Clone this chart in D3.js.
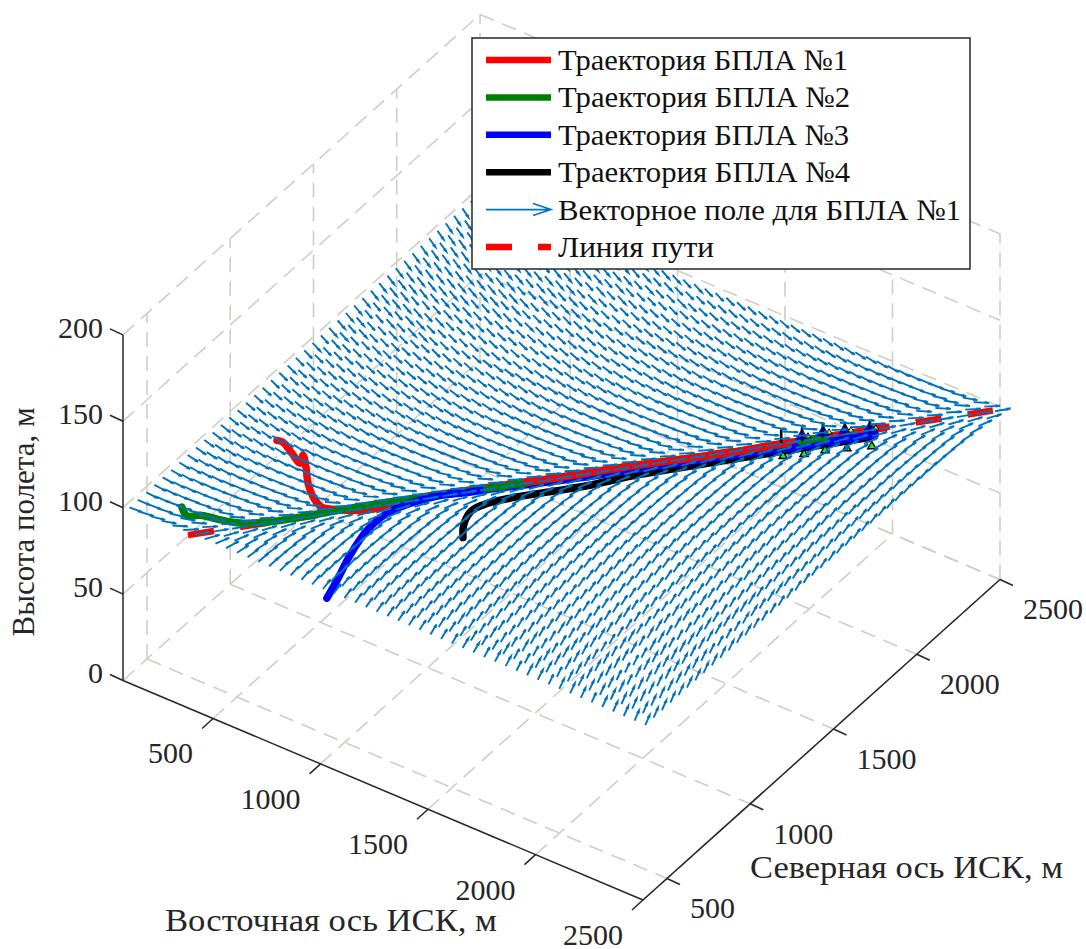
<!DOCTYPE html>
<html>
<head>
<meta charset="utf-8">
<script src="https://cdn.jsdelivr.net/npm/d3@7"></script>
<style>
  html, body { margin: 0; padding: 0; background: #fff; }
  svg { display: block; }
  text { font-family: "Liberation Serif", serif; }
</style>
</head>
<body>
<div id="chart"></div>
<script>
// Axis limits and ticks
const eastLimits = [81, 2500];
const northLimits = [356, 2500];
const heightLimits = [0, 200];
const eastTicks = [500, 1000, 1500, 2000, 2500];
const northTicks = [500, 1000, 1500, 2000, 2500];
const heightTicks = [0, 50, 100, 150, 200];

// Flight level of the vector field and of the path line
const fieldLevel = 100;
const pathEast = [383, 2491];
const pathNorth = [356, 2469];

// Quiver lattice (50 m spacing in the picture)
const fieldEast = d3.range(100, 2501, 50);
const fieldNorth = d3.range(370, 2471, 50);
const arrowLength = 58;
// Turn of an arrow away from the path heading, read at several distances on each side of the path
const offPathDistance = [0, 50, 100, 200, 300, 500, 800, 1200, 1700, 2400];
const turnEastSide = [0, 15, 28, 42, 50, 56, 60, 65, 68, 70];
const turnWestSide = [0, 15, 28, 42, 50, 58, 65, 71, 76, 80];

// Trajectories, east / north in metres at flight level
const redEast = [331, 357, 424, 485, 466, 518, 581, 662, 709, 751, 809, 887, 911, 985, 1143, 1268, 1349, 1547, 1800, 1936, 2094, 2209];
const redNorth = [958, 961, 928, 898, 940, 891, 822, 759, 740, 752, 780, 841, 888, 973, 1129, 1250, 1326, 1526, 1765, 1907, 2063, 2185];
const greenEast = [265, 313, 332, 351, 419, 506, 588, 675, 758, 879, 985, 1166, 1271, 1547, 1800, 1989, 2054, 2197];
const greenNorth = [472, 441, 452, 470, 485, 511, 567, 653, 743, 869, 973, 1142, 1246, 1526, 1765, 1959, 2025, 2171];
const blueEast = [1045, 1014, 967, 933, 936, 980, 1041, 1116, 1169, 1403, 1580, 1810, 1994, 2202];
const blueNorth = [336, 437, 575, 722, 837, 937, 1020, 1086, 1138, 1352, 1526, 1751, 1922, 2134];
const blackEast = [1262, 1216, 1195, 1218, 1280, 1394, 1472, 1582, 1703, 1892, 2066, 2197];
const blackNorth = [873, 939, 1013, 1074, 1151, 1267, 1347, 1480, 1607, 1801, 1979, 2111];

// Aircraft markers at the end of the flight
const uavEast = [1936, 1995, 2048, 2110, 2182];
const uavNorth = [1914, 1963, 2021, 2072, 2129];
const uavTop = 108;

const legendLabels = ["Траектория БПЛА №1", "Траектория БПЛА №2", "Траектория БПЛА №3", "Траектория БПЛА №4", "Векторное поле для БПЛА №1", "Линия пути"];
const legendWidths = [290, 292, 291, 292, 403, 156];
const legendColors = ["#ff0000", "#008000", "#0000ff", "#000000"];

const width = 1086, height = 949;
const gridColor = "#d1cdc6", axisColor = "#262626", arrowColor = "#0072bd";

const svg = d3.select("#chart").append("svg").attr("width", width).attr("height", height);

// The MATLAB view is an oblique projection, so each data axis gets its own pair of scales
const eastX = d3.scaleLinear().domain(eastLimits).range([0, 520]);
const eastY = d3.scaleLinear().domain(eastLimits).range([0, 219.5]);
const northX = d3.scaleLinear().domain(northLimits).range([0, 357]);
const northY = d3.scaleLinear().domain(northLimits).range([0, -320.5]);
const heightY = d3.scaleLinear().domain(heightLimits).range([0, -345.6]);
const originX = 123, originY = 680.5;

const px = (e, n) => originX + eastX(e) + northX(n);
const py = (e, n, z) => originY + eastY(e) + northY(n) + heightY(z);
const project = (e, n, z) => [px(e, n), py(e, n, z)];

const [eMin, eMax] = eastLimits;
const [nMin, nMax] = northLimits;
const [zMin, zMax] = heightLimits;

function seg(a, b) {
    return { a: project(...a), b: project(...b) };
}

// Dashed box grid: floor, left wall and back wall
const gridSegs = [];
eastTicks.forEach(e => {
    gridSegs.push(seg([e, nMin, zMin], [e, nMax, zMin]));
    gridSegs.push(seg([e, nMax, zMin], [e, nMax, zMax]));
});
northTicks.forEach(n => {
    gridSegs.push(seg([eMin, n, zMin], [eMax, n, zMin]));
    gridSegs.push(seg([eMin, n, zMin], [eMin, n, zMax]));
});
heightTicks.forEach(z => {
    gridSegs.push(seg([eMin, nMin, z], [eMin, nMax, z]));
    gridSegs.push(seg([eMin, nMax, z], [eMax, nMax, z]));
});

svg.append("g").selectAll("line").data(gridSegs).join("line")
    .attr("x1", d => d.a[0]).attr("y1", d => d.a[1])
    .attr("x2", d => d.b[0]).attr("y2", d => d.b[1])
    .attr("stroke", gridColor).attr("stroke-width", 1.6)
    .attr("stroke-dasharray", "15,9");

// Axis lines, ticks and tick labels
const axisG = svg.append("g");
const axisLine = (a, b, w) => axisG.append("line")
    .attr("x1", a[0]).attr("y1", a[1]).attr("x2", b[0]).attr("y2", b[1])
    .attr("stroke", axisColor).attr("stroke-width", w || 1.5);
const tickLabel = (x, y, anchor, txt) => axisG.append("text")
    .attr("x", x).attr("y", y).attr("dy", "0.33em").attr("text-anchor", anchor)
    .attr("fill", axisColor).style("font-size", "30px").text(txt);

axisLine(project(eMin, nMin, zMin), project(eMax, nMin, zMin));
axisLine(project(eMax, nMin, zMin), project(eMax, nMax, zMin));
axisLine(project(eMin, nMin, zMin), project(eMin, nMin, zMax));

eastTicks.forEach(e => {
    const p = project(e, nMin, zMin);
    axisLine(p, [p[0] - 11, p[1] + 10]);
    tickLabel(p[0] - 20, p[1] + 35, "end", e);
});
northTicks.forEach(n => {
    const p = project(eMax, n, zMin);
    axisLine(p, [p[0] + 13, p[1] + 6]);
    tickLabel(p[0] + 23, p[1] + 30, "start", n);
});
heightTicks.forEach(z => {
    const p = project(eMin, nMin, z);
    axisLine(p, [p[0] - 13, p[1] - 6]);
    tickLabel(p[0] - 20, p[1] - 7, "end", z);
});

axisG.append("text").attr("transform", "translate(34,522) rotate(-90)")
    .attr("text-anchor", "middle").attr("fill", axisColor).style("font-size", "31px")
    .attr("textLength", 229).attr("lengthAdjust", "spacingAndGlyphs").text("Высота полета, м");
axisG.append("text").attr("x", 165).attr("y", 931)
    .attr("fill", axisColor).style("font-size", "31px")
    .attr("textLength", 332).attr("lengthAdjust", "spacingAndGlyphs").text("Восточная ось ИСК, м");
axisG.append("text").attr("x", 750).attr("y", 878)
    .attr("fill", axisColor).style("font-size", "31px")
    .attr("textLength", 313).attr("lengthAdjust", "spacingAndGlyphs").text("Северная ось ИСК, м");

// Dashed path line
const path3d = d3.line().x(d => px(d[0], d[1])).y(d => py(d[0], d[1], fieldLevel));
svg.append("path")
    .attr("d", path3d(d3.zip(pathEast, pathNorth)))
    .attr("fill", "none").attr("stroke", "#ff0000").attr("stroke-width", 6.5)
    .attr("stroke-dasharray", "26.3,26.3");

// Trajectories; the colours swap on top of each other along the shared stretch
const trajectories = {
    red: d3.zip(redEast, redNorth),
    green: d3.zip(greenEast, greenNorth),
    blue: d3.zip(blueEast, blueNorth),
    black: d3.zip(blackEast, blackNorth)
};
const trajColors = { red: legendColors[0], green: legendColors[1], blue: legendColors[2], black: legendColors[3] };
const trajLayers = [
    ["black", 0, 12], ["blue", 8, 14], ["green", 12, 18], ["red", 0, 16],
    ["green", 0, 12], ["blue", 0, 9], ["green", 11, 13], ["red", 15, 22],
    ["blue", 12, 14], ["green", 15, 17]
];
const trajLine = path3d.curve(d3.curveCatmullRom.alpha(0.5));
svg.append("g").selectAll("path").data(trajLayers).join("path")
    .attr("d", d => trajLine(trajectories[d[0]].slice(d[1], d[2])))
    .attr("fill", "none").attr("stroke", d => trajColors[d[0]])
    .attr("stroke-width", 7.5).attr("stroke-linecap", "round").attr("stroke-linejoin", "round");

// Aircraft markers: black fin, blue and yellow wings, lime tail
const uavs = d3.zip(uavEast, uavNorth);
const uavG = svg.append("g");
const triangle = d3.symbol().type(d3.symbolTriangle);
uavG.selectAll(".uav-tail").data(uavs).join("path").attr("class", "uav-tail")
    .attr("d", triangle.size(30)())
    .attr("transform", d => `translate(${px(d[0], d[1]) + 2},${py(d[0], d[1], fieldLevel) + 13})`)
    .attr("fill", "#22ee22").attr("stroke", "#000").attr("stroke-width", 1.4);
uavG.selectAll(".uav-wing").data(uavs.slice(1)).join("path").attr("class", "uav-wing")
    .attr("d", triangle.size(80)())
    .attr("transform", d => `translate(${px(d[0], d[1])},${py(d[0], d[1], fieldLevel) - 5})`)
    .attr("fill", "#0000ff");
uavG.selectAll(".uav-yellow").data(uavs.slice(1)).join("path").attr("class", "uav-yellow")
    .attr("d", triangle.size(16)())
    .attr("transform", d => `translate(${px(d[0], d[1]) + 6},${py(d[0], d[1], fieldLevel) - 5})`)
    .attr("fill", "#ffee00").attr("stroke", "#000").attr("stroke-width", 1);
uavG.selectAll(".uav-fin").data(uavs).join("line").attr("class", "uav-fin")
    .attr("x1", d => px(d[0], d[1])).attr("x2", d => px(d[0], d[1]))
    .attr("y1", d => py(d[0], d[1], fieldLevel)).attr("y2", d => py(d[0], d[1], uavTop))
    .attr("stroke", "#000").attr("stroke-width", 2.6);

// Vector field: direction depends only on the side of and distance from the path line
const pathHeading = Math.atan2(pathNorth[1] - pathNorth[0], pathEast[1] - pathEast[0]);
const eastSideScale = d3.scaleLinear().domain(offPathDistance).range(turnEastSide).clamp(true);
const westSideScale = d3.scaleLinear().domain(offPathDistance).range(turnWestSide).clamp(true);

function arrowPath(e, n) {
    const off = (e - pathEast[0]) * Math.sin(pathHeading) - (n - pathNorth[0]) * Math.cos(pathHeading);
    const turnDeg = off > 0 ? eastSideScale(off) : -westSideScale(-off);
    const h = pathHeading + turnDeg * Math.PI / 180;
    const te = e + arrowLength * Math.cos(h), tn = n + arrowLength * Math.sin(h);
    const barb = arrowLength * 0.3, spread = 0.2;
    const b1e = te - barb * Math.cos(h - spread), b1n = tn - barb * Math.sin(h - spread);
    const b2e = te - barb * Math.cos(h + spread), b2n = tn - barb * Math.sin(h + spread);
    const p = (a, b) => project(a, b, fieldLevel).map(v => v.toFixed(1)).join(",");
    return `M${p(e, n)}L${p(te, tn)}M${p(b1e, b1n)}L${p(te, tn)}L${p(b2e, b2n)}`;
}

svg.append("g").selectAll("path").data(d3.cross(fieldEast, fieldNorth)).join("path")
    .attr("d", d => arrowPath(d[0], d[1]))
    .attr("fill", "none").attr("stroke", arrowColor).attr("stroke-width", 1.9);

// Legend
const legend = svg.append("g");
legend.append("rect").attr("x", 472).attr("y", 38).attr("width", 498).attr("height", 231)
    .attr("fill", "#fff").attr("stroke", "#333").attr("stroke-width", 1.6);
const legendY = d3.scalePoint().domain(legendLabels).range([60, 247]);
legend.selectAll("text").data(legendLabels).join("text")
    .attr("x", 558).attr("y", d => legendY(d) + 10)
    .attr("fill", "#111").style("font-size", "30px")
    .attr("textLength", (d, i) => legendWidths[i]).attr("lengthAdjust", "spacingAndGlyphs")
    .text(d => d);
legendColors.forEach((c, i) => {
    legend.append("line").attr("x1", 486).attr("x2", 551)
        .attr("y1", legendY(legendLabels[i])).attr("y2", legendY(legendLabels[i]))
        .attr("stroke", c).attr("stroke-width", 6.5);
});
const arrowKeyY = legendY(legendLabels[4]);
legend.append("path")
    .attr("d", `M486,${arrowKeyY}H551M533,${arrowKeyY - 6}L551,${arrowKeyY}L533,${arrowKeyY + 6}`)
    .attr("fill", "none").attr("stroke", arrowColor).attr("stroke-width", 1.6);
const dashKeyY = legendY(legendLabels[5]);
legend.append("line").attr("x1", 486).attr("x2", 551)
    .attr("y1", dashKeyY).attr("y2", dashKeyY)
    .attr("stroke", "#ff0000").attr("stroke-width", 6.5).attr("stroke-dasharray", "26,26");
</script>
</body>
</html>
